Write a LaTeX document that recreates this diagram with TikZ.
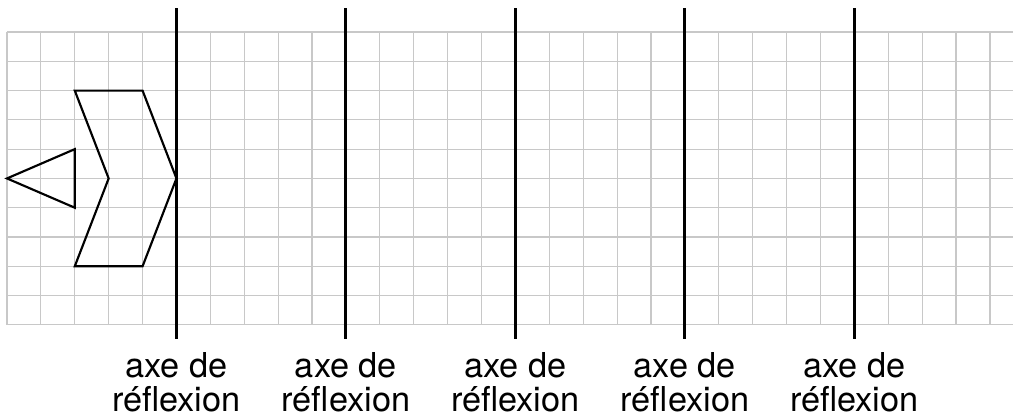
\documentclass[tikz,border=0pt]{standalone}
\usepackage{fontspec}
\setmainfont{TeX Gyre Heros}
\usepackage{tikz}
\definecolor{gridgray}{HTML}{C8C8C8}

\begin{document}
\begin{tikzpicture}[
  x=1cm, y=0.864cm,
  gridline/.style={draw=gridgray, line width=1pt},
  mirror/.style={draw=black, line width=2.5pt},
  figure/.style={draw=black, line width=1.8pt, line join=miter},
  axislabel/.style={anchor=north, align=center, inner sep=0pt,
    font=\fontsize{28.8}{28.8}\selectfont},
]
\useasboundingbox (-0.206,-3.175) rectangle (29.68,11.093);

% squared paper
\foreach \gx in {0,...,29}
  \draw[gridline] (\gx,0) -- (\gx,10);
\foreach \gy in {0,...,10}
  \draw[gridline] (0,\gy) -- (29.68,\gy);

% reflection axes with their labels
\foreach \ax [count=\i] in {5,10,15,20,25} {
  \draw[mirror] (\ax,-0.478) -- (\ax,10.82);
  \node[axislabel] (lab\i) at (\ax,-0.92) {axe de\\réflexion};
}

% original figure
\draw[figure] (0,5) -- (2,6) -- (2,4) -- cycle;
\draw[figure] (2,8) -- (4,8) -- (5,5) -- (4,2) -- (2,2) -- (3,5) -- cycle;
\end{tikzpicture}
\end{document}
